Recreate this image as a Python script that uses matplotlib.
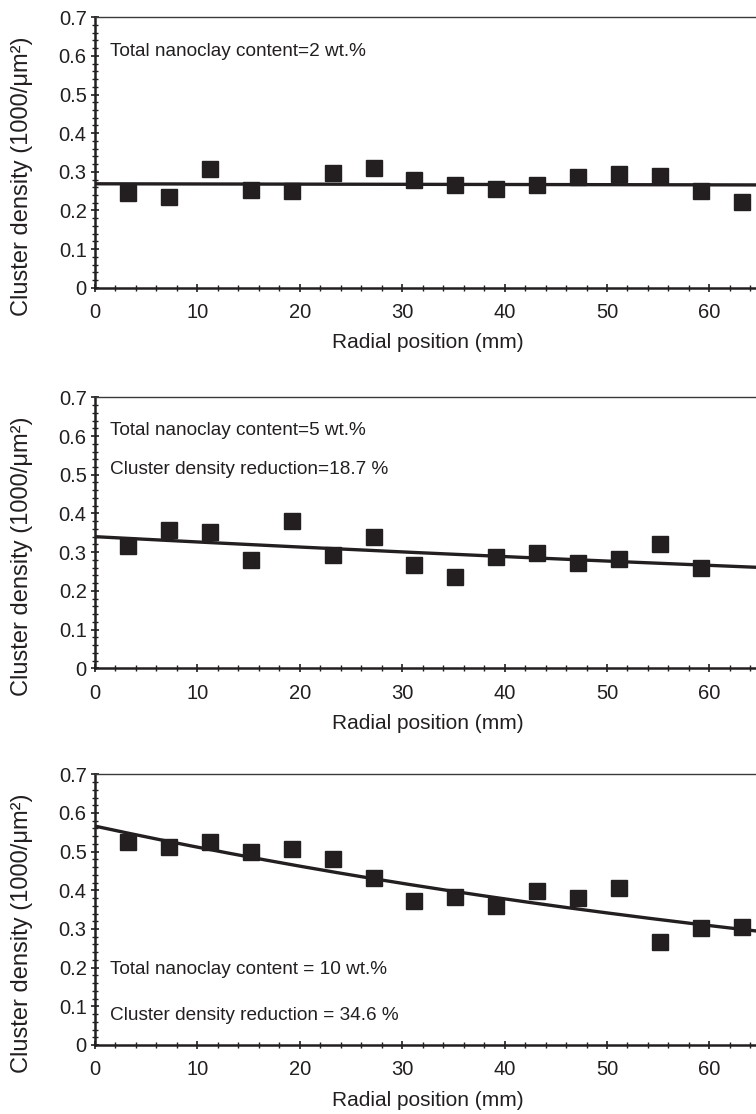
import numpy as np
import matplotlib
matplotlib.use("Agg")
import matplotlib.pyplot as plt
from matplotlib.ticker import MultipleLocator

plt.rcParams['font.family'] = ['Liberation Sans', 'DejaVu Sans']

INK = '#231f20'

# Radial positions of the measurements (mm)
radial_pos = [3.2, 7.2, 11.2, 15.2, 19.2, 23.2, 27.2, 31.2,
              35.2, 39.2, 43.2, 47.2, 51.2, 55.2, 59.2, 63.2]

# Cluster density (1000/um^2) for each nanoclay loading
density_2wt = [0.246, 0.234, 0.307, 0.253, 0.251, 0.297, 0.310, 0.279,
               0.266, 0.255, 0.266, 0.286, 0.295, 0.288, 0.251, 0.223]
density_5wt = [0.316, 0.357, 0.353, 0.280, 0.381, 0.293, 0.340, 0.267,
               0.237, 0.287, 0.297, 0.271, 0.282, 0.320, 0.258]
density_10wt = [0.526, 0.513, 0.524, 0.500, 0.506, 0.480, 0.431, 0.373,
                0.383, 0.360, 0.399, 0.379, 0.407, 0.267, 0.302, 0.304]

# Exponential trend lines y = a * exp(-b * r)
fit_a = [0.269, 0.340, 0.566]
fit_b = [0.00017, 0.0041, 0.0101]

labels_main = ['Total nanoclay content=2 wt.%',
               'Total nanoclay content=5 wt.%',
               'Total nanoclay content = 10 wt.%']
labels_reduction = [None,
                    'Cluster density reduction=18.7 %',
                    'Cluster density reduction = 34.6 %']
label_y = [(0.612, None), (0.614, 0.514), (0.194, 0.075)]

x_ticks = [0, 10, 20, 30, 40, 50, 60]
y_ticks = [0, 0.1, 0.2, 0.3, 0.4, 0.5, 0.6, 0.7]
y_ticklabels = ['0', '0.1', '0.2', '0.3', '0.4', '0.5', '0.6', '0.7']

fig = plt.figure(figsize=(7.56, 11.14), dpi=100)

W, H = 756, 1114
px_per_mm = 10.24
x_left = 95
ax_width = 70 * px_per_mm
panels_px = [(17.3, 287.7), (397.3, 668.3), (774.3, 1045.0)]

series = [density_2wt, density_5wt, density_10wt]

for i, (top, bottom) in enumerate(panels_px):
    ax_h = bottom - top
    ax = fig.add_axes([x_left / W, 1 - bottom / H, ax_width / W, ax_h / H])
    y = series[i]
    ax.plot(radial_pos[:len(y)], y, linestyle='none', marker='s',
            markersize=11, color=INK, zorder=3)
    r = np.linspace(0, 70, 200)
    ax.plot(r, fit_a[i] * np.exp(-fit_b[i] * r), color=INK, lw=2.4, zorder=2,
            solid_capstyle='butt')

    ax.set_xlim(0, 70)
    ax.set_ylim(0, 0.7)
    ax.set_xticks(x_ticks)
    ax.set_yticks(y_ticks)
    ax.set_yticklabels(y_ticklabels)
    ax.xaxis.set_minor_locator(MultipleLocator(2))
    ax.yaxis.set_minor_locator(MultipleLocator(0.02))
    ax.tick_params(which='major', direction='inout', length=6, width=1.2,
                   colors=INK, labelsize=14.5, pad=3)
    ax.tick_params(which='minor', direction='inout', length=4, width=1.0,
                   colors=INK)
    ax.tick_params(axis='x', which='major', pad=8)
    ax.tick_params(top=False, right=False, which='both')

    ax.spines['left'].set_linewidth(1.8)
    ax.spines['bottom'].set_linewidth(1.8)
    ax.spines['left'].set_color(INK)
    ax.spines['bottom'].set_color(INK)
    ax.spines['top'].set_linewidth(1.0)
    ax.spines['top'].set_color('#3a3a3a')
    ax.spines['right'].set_visible(False)

    ax.set_xlabel('Radial position (mm)', fontsize=15, color=INK)
    ax.xaxis.label.set_va('center')
    ax.xaxis.set_label_coords((428 - x_left) / ax_width, -55.0 / ax_h)

    ax.set_ylabel('Cluster density (1000/μm²)', fontsize=17, color=INK)
    ax.yaxis.label.set_va('center')
    ax.yaxis.set_label_coords((22 - x_left) / ax_width, 1 - (176 - 17.3) / 270.4)

    y1, y2 = label_y[i]
    ax.text(1.5, y1, labels_main[i], fontsize=13.7, color=INK, va='center', ha='left')
    if labels_reduction[i] is not None:
        ax.text(1.5, y2, labels_reduction[i], fontsize=13.7, color=INK,
                va='center', ha='left')

fig.savefig('out.png', dpi=100)
